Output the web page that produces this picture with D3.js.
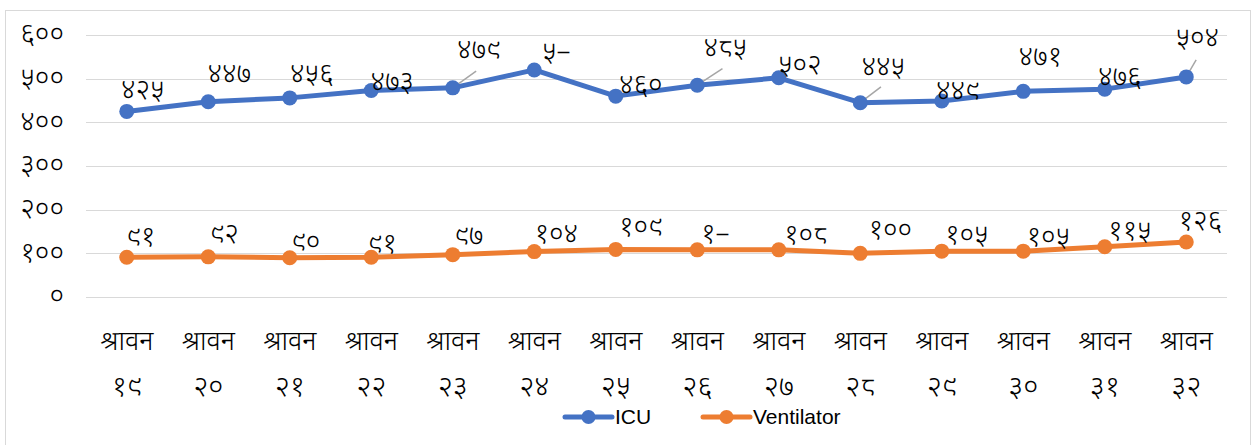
<!DOCTYPE html>
<html lang="ne">
  <head>
    <meta charset="utf-8">
    <script src="https://cdnjs.cloudflare.com/ajax/libs/d3/7.8.5/d3.min.js"></script>
    <style>
      body { margin: 0; background: #fff; }
      svg text { font-family: "Noto Sans Devanagari", "Lohit Devanagari", "Mangal", "Nirmala UI", "Noto Sans", sans-serif; font-weight: 300; fill: #000; }
      .grid line { stroke: #d9d9d9; stroke-width: 1; }
      .ytick { font-size: 28px; }
      .xtick.m { font-size: 27px; }
      .xtick.d { font-size: 29px; }
      .dlabel { font-size: 28px; }
      .legend text { font-family: "Liberation Sans", "Open Sans", sans-serif; font-weight: 400; font-size: 21px; }
    </style>
  </head>
  <body>
  <script>
  // श्रावन १९ .. ३२
  var days = ['१९', '२०', '२१', '२२', '२३', '२४', '२५', '२६', '२७', '२८', '२९', '३०', '३१', '३२'];
  var month = 'श्रावन';

  var icu = [425, 447, 456, 473, 479, 520, 460, 485, 502, 445, 449, 471, 476, 504];
  var icuText = ['४२५', '४४७', '४५६', '४७३', '४७९', '५–', '४६०', '४८५', '५०२', '४४५', '४४९', '४७१', '४७६', '५०४'];

  var vent = [91, 92, 90, 91, 97, 104, 109, 108, 108, 100, 105, 105, 115, 126];
  var ventText = ['९१', '९२', '९०', '९१', '९७', '१०४', '१०९', '१–', '१०८', '१००', '१०५', '१०५', '११५', '१२६'];

  var yTicks = [0, 100, 200, 300, 400, 500, 600];
  var yTickText = ['०', '१००', '२००', '३००', '४००', '५००', '६००'];

  // label offsets from the point (dx, dy), as placed in the original
  var icuNudge = [[16,-21],[21,-27],[22,-23],[21,-8],[26,-37],[22,-17],[25,-11],[28,-37],[21,-12],[23,-35],[16,-9],[17,-34],[15,-12],[11,-38]];
  var ventNudge = [[14,-20],[16,-22],[16,-15],[11,-13],[16,-18],[22,-17],[25,-22],[18,-15],[27,-14],[30,-23],[25,-16],[25,-14],[25,-15],[14,-20]];
  var leaders = [4, 7, 9, 13];

  var width = 1254,
      height = 445;
  var margin = { left: 86, right: 27, top: 35, bottom: 148 };

  var svg = d3.select('body')
    .append('svg')
    .attr('width', width)
    .attr('height', height);

  // chart frame
  svg.append('rect')
    .attr('x', 5.5).attr('y', 10.5)
    .attr('width', 1245).attr('height', 445)
    .attr('fill', 'none')
    .attr('stroke', '#d9d9d9');

  var x = d3.scaleBand()
    .domain(d3.range(days.length))
    .range([margin.left, width - margin.right]);

  var y = d3.scaleLinear()
    .domain([0, 600])
    .range([height - margin.bottom, margin.top]);

  var cx = function (i) { return x(i) + x.bandwidth() / 2; };

  var grid = svg.append('g').attr('class', 'grid');
  grid.selectAll('line')
    .data(yTicks)
    .enter().append('line')
      .attr('x1', margin.left).attr('x2', width - margin.right)
      .attr('y1', d => Math.round(y(d)) + 0.5)
      .attr('y2', d => Math.round(y(d)) + 0.5);

  svg.append('g').selectAll('text')
    .data(yTicks)
    .enter().append('text')
      .attr('class', 'ytick')
      .attr('x', 64)
      .attr('y', d => y(d))
      .attr('dy', '0.3em')
      .attr('text-anchor', 'end')
      .text((d, i) => yTickText[i]);

  var xl = svg.append('g');
  xl.selectAll('text.m')
    .data(days)
    .enter().append('text')
      .attr('class', 'xtick m')
      .attr('x', (d, i) => cx(i))
      .attr('y', 350)
      .attr('text-anchor', 'middle')
      .text(month);
  xl.selectAll('text.d')
    .data(days)
    .enter().append('text')
      .attr('class', 'xtick d')
      .attr('x', (d, i) => cx(i))
      .attr('y', 396)
      .attr('text-anchor', 'middle')
      .text(d => d);

  var line = d3.line()
    .x((d, i) => cx(i))
    .y(d => y(d));

  function series (values, texts, nudge, color, lead) {
    var g = svg.append('g');
    g.append('path')
      .datum(values)
      .attr('d', line)
      .attr('fill', 'none')
      .attr('stroke', color)
      .attr('stroke-width', 5)
      .attr('stroke-linejoin', 'round');

    g.selectAll('line.lead')
      .data(lead)
      .enter().append('line')
        .attr('class', 'lead')
        .attr('x1', i => cx(i))
        .attr('y1', i => y(values[i]))
        .attr('x2', i => cx(i) + nudge[i][0] * 0.9)
        .attr('y2', i => y(values[i]) + nudge[i][1] * 0.45)
        .attr('stroke', '#a6a6a6')
        .attr('stroke-width', 1.5);

    g.selectAll('circle')
      .data(values)
      .enter().append('circle')
        .attr('cx', (d, i) => cx(i))
        .attr('cy', d => y(d))
        .attr('r', 7.5)
        .attr('fill', color);

    g.selectAll('text')
      .data(values)
      .enter().append('text')
        .attr('class', 'dlabel')
        .attr('x', (d, i) => cx(i) + nudge[i][0])
        .attr('y', (d, i) => y(d) + nudge[i][1])
        .attr('dy', '0.3em')
        .attr('text-anchor', 'middle')
        .text((d, i) => texts[i]);
  }

  series(vent, ventText, ventNudge, '#ed7d31', []);
  series(icu, icuText, icuNudge, '#4472c4', leaders);

  // legend
  var legendItems = [
    { name: 'ICU', color: '#4472c4', x: 565 },
    { name: 'Ventilator', color: '#ed7d31', x: 703 }
  ];
  var lg = svg.append('g').attr('class', 'legend');
  legendItems.forEach(function (d) {
    lg.append('line')
      .attr('x1', d.x).attr('x2', d.x + 47)
      .attr('y1', 417).attr('y2', 417)
      .attr('stroke', d.color)
      .attr('stroke-width', 5)
      .attr('stroke-linecap', 'round');
    lg.append('circle')
      .attr('cx', d.x + 23.5).attr('cy', 417)
      .attr('r', 7)
      .attr('fill', d.color);
    lg.append('text')
      .attr('x', d.x + 50).attr('y', 417)
      .attr('dy', '0.35em')
      .text(d.name);
  });
  </script>
  </body>
</html>
